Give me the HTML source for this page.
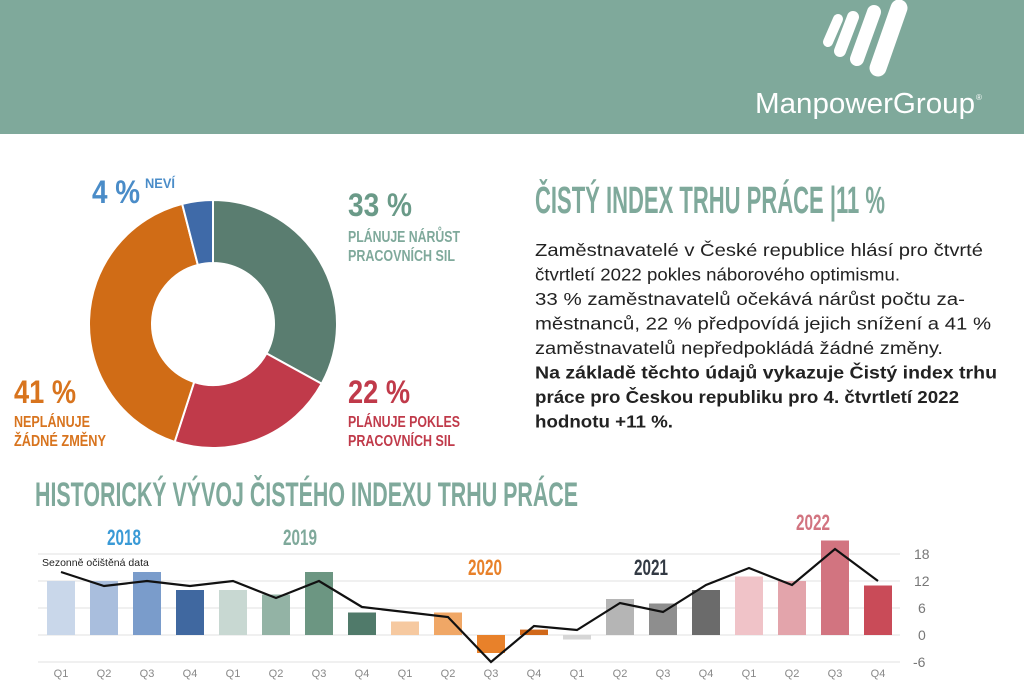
<!DOCTYPE html>
<html><head><meta charset="utf-8"><style>
html,body{margin:0;padding:0;background:#fff;}
svg{display:block;}
.c{font-family:"Liberation Sans Narrow","Liberation Sans",sans-serif;font-weight:bold;}
.s{font-family:"Liberation Sans",sans-serif;}
</style></head><body>
<svg width="1024" height="683" viewBox="0 0 1024 683" xmlns="http://www.w3.org/2000/svg">
<rect x="0" y="0" width="1024" height="134" fill="#7fa99b"/>
<g stroke="#fff" stroke-linecap="round">
<line x1="838" y1="19" x2="828" y2="42" stroke-width="10"/>
<line x1="853" y1="17" x2="840" y2="51" stroke-width="12"/>
<line x1="874" y1="12" x2="857" y2="59" stroke-width="14"/>
<line x1="899" y1="8" x2="878" y2="68" stroke-width="17"/>
</g>
<text x="755" y="113" class="s" font-size="29" fill="#fff" textLength="220" lengthAdjust="spacingAndGlyphs">ManpowerGroup</text>
<text x="976" y="100" class="s" font-size="8" fill="#fff">®</text>

<g id="donut"></g>

<text x="92" y="203" class="c" font-size="32" fill="#4a8cc8" textLength="48" lengthAdjust="spacingAndGlyphs">4 %</text>
<text x="145" y="188" class="c" font-size="14" fill="#4a8cc8" textLength="30" lengthAdjust="spacingAndGlyphs">NEVÍ</text>
<text x="348" y="216" class="c" font-size="32" fill="#6a9a88" textLength="64" lengthAdjust="spacingAndGlyphs">33 %</text>
<text x="348" y="242" class="c" font-size="16" fill="#7fa99b" textLength="112" lengthAdjust="spacingAndGlyphs">PLÁNUJE NÁRŮST</text>
<text x="348" y="261" class="c" font-size="16" fill="#7fa99b" textLength="107" lengthAdjust="spacingAndGlyphs">PRACOVNÍCH SIL</text>
<text x="348" y="403" class="c" font-size="32" fill="#c03a4a" textLength="62" lengthAdjust="spacingAndGlyphs">22 %</text>
<text x="348" y="427" class="c" font-size="16" fill="#c03a4a" textLength="112" lengthAdjust="spacingAndGlyphs">PLÁNUJE POKLES</text>
<text x="348" y="446" class="c" font-size="16" fill="#c03a4a" textLength="107" lengthAdjust="spacingAndGlyphs">PRACOVNÍCH SIL</text>
<text x="14" y="403" class="c" font-size="32" fill="#d8741e" textLength="62" lengthAdjust="spacingAndGlyphs">41 %</text>
<text x="14" y="427" class="c" font-size="16" fill="#d8741e" textLength="76" lengthAdjust="spacingAndGlyphs">NEPLÁNUJE</text>
<text x="14" y="446" class="c" font-size="16" fill="#d8741e" textLength="92" lengthAdjust="spacingAndGlyphs">ŽÁDNÉ ZMĚNY</text>

<text x="535" y="213" class="c" font-size="38" fill="#7fa99b" textLength="350" lengthAdjust="spacingAndGlyphs">ČISTÝ INDEX TRHU PRÁCE |11 %</text>
<g class="s" font-size="17.5" fill="#222">
<text x="535" y="256" textLength="448" lengthAdjust="spacingAndGlyphs">Zaměstnavatelé v České republice hlásí pro čtvrté</text>
<text x="535" y="280.5" textLength="365" lengthAdjust="spacingAndGlyphs">čtvrtletí 2022 pokles náborového optimismu.</text>
<text x="535" y="305" textLength="430" lengthAdjust="spacingAndGlyphs">33 % zaměstnavatelů očekává nárůst počtu za-</text>
<text x="535" y="329.5" textLength="456" lengthAdjust="spacingAndGlyphs">městnanců, 22 % předpovídá jejich snížení a 41 %</text>
<text x="535" y="354" textLength="408" lengthAdjust="spacingAndGlyphs">zaměstnavatelů nepředpokládá žádné změny.</text>
<text x="535" y="378.5" font-weight="bold" textLength="462" lengthAdjust="spacingAndGlyphs">Na základě těchto údajů vykazuje Čistý index trhu</text>
<text x="535" y="403" font-weight="bold" textLength="424" lengthAdjust="spacingAndGlyphs">práce pro Českou republiku pro 4. čtvrtletí 2022</text>
<text x="535" y="427.5" font-weight="bold" textLength="138" lengthAdjust="spacingAndGlyphs">hodnotu +11 %.</text>
</g>

<text x="35" y="506" class="c" font-size="34" fill="#7fa99b" textLength="543" lengthAdjust="spacingAndGlyphs">HISTORICKÝ VÝVOJ ČISTÉHO INDEXU TRHU PRÁCE</text>

<g stroke="#e0e0e0" stroke-width="1">
<line x1="38" y1="554" x2="900" y2="554"/>
<line x1="38" y1="581" x2="900" y2="581"/>
<line x1="38" y1="608" x2="900" y2="608"/>
<line x1="38" y1="635" x2="900" y2="635"/>
<line x1="38" y1="662" x2="900" y2="662"/>
</g>
<g class="s" font-size="14" fill="#777">
<text x="914" y="559">18</text>
<text x="914" y="586">12</text>
<text x="918" y="613">6</text>
<text x="918" y="640">0</text>
<text x="913" y="667">-6</text>
</g>
<g id="bars"></g>
<g id="ql" class="s" font-size="11" fill="#888" text-anchor="middle"></g>
<polyline id="ln" fill="none" stroke="#111" stroke-width="2.2" points=""/>
<text x="42" y="566" class="s" font-size="10.5" fill="#222">Sezonně očištěná data</text>

<g class="c" font-size="22" font-weight="normal">
<text x="107" y="545" fill="#3a9ad6" textLength="34" lengthAdjust="spacingAndGlyphs">2018</text>
<text x="283" y="545" fill="#7fa99b" textLength="34" lengthAdjust="spacingAndGlyphs">2019</text>
<text x="468" y="575" fill="#e8812a" textLength="34" lengthAdjust="spacingAndGlyphs">2020</text>
<text x="634" y="575" fill="#333a44" textLength="34" lengthAdjust="spacingAndGlyphs">2021</text>
<text x="796" y="530" fill="#d27480" textLength="34" lengthAdjust="spacingAndGlyphs">2022</text>
</g>
<script>
(function(){
var NS="http://www.w3.org/2000/svg";
var g=document.getElementById("donut");
var cx=213,cy=324,R=124,r=61;
var segs=[[33,"#5a7d70"],[22,"#c03a4a"],[41,"#d06c16"],[4,"#3f6aa8"]];
var a=0;
segs.forEach(function(s){
 var a0=a/100*2*Math.PI, a1=(a+s[0])/100*2*Math.PI; a+=s[0];
 function p(rad,ang){return [cx+rad*Math.sin(ang), cy-rad*Math.cos(ang)];}
 var o0=p(R,a0),o1=p(R,a1),i1=p(r,a1),i0=p(r,a0);
 var lg=(a1-a0)>Math.PI?1:0;
 var d="M"+o0+"A"+R+","+R+" 0 "+lg+" 1 "+o1+"L"+i1+"A"+r+","+r+" 0 "+lg+" 0 "+i0+"Z";
 var e=document.createElementNS(NS,"path");e.setAttribute("d",d);e.setAttribute("fill",s[1]);
 e.setAttribute("stroke","#fff");e.setAttribute("stroke-width","2");g.appendChild(e);
});
var vals=[12,12,14,10, 10,9,14,5, 3,5,-4,1.2, -1,8,7,10, 13,12,21,11];
var cols=["#c9d7ea","#a9bedd","#7a9ccb","#4068a0","#c8d8d2","#93b3a5","#6c9682","#507a6a","#f6c9a0","#f0a766","#e8812a","#d0681a","#d6d6d6","#b5b5b5","#8e8e8e","#6b6b6b","#f0c3c8","#e3a4ab","#d27480","#c94b58"];
var lineY=[572,586,581,586,581,598,581,607,612,617,662,626,630,603,612,585,568,585,549,581];
var bg=document.getElementById("bars"),ql=document.getElementById("ql");
var pts=[];
for(var i=0;i<20;i++){
 var x=61+i*43.0;
 var y0=635,y=635-vals[i]*4.5;
 var e=document.createElementNS(NS,"rect");
 e.setAttribute("x",x-14);e.setAttribute("width",28);
 e.setAttribute("y",Math.min(y,y0));e.setAttribute("height",Math.abs(y-y0));
 e.setAttribute("fill",cols[i]);bg.appendChild(e);
 var t=document.createElementNS(NS,"text");t.setAttribute("x",x);t.setAttribute("y",677);
 t.textContent="Q"+(i%4+1);ql.appendChild(t);
 pts.push(x+","+lineY[i]);
}
document.getElementById("ln").setAttribute("points",pts.join(" "));
})();
</script>
</svg>
</body></html>
